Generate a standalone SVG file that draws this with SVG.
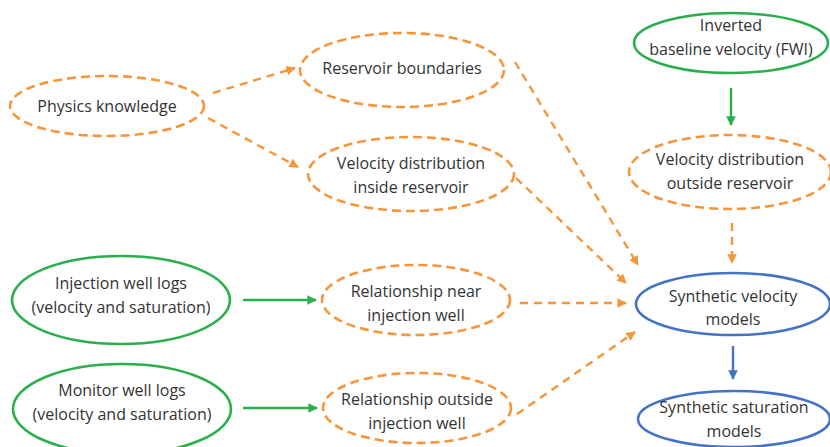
<svg xmlns="http://www.w3.org/2000/svg" width="830" height="447" viewBox="0 0 830 447">
<defs>
<marker id="ao" viewBox="0 0 10 10" refX="9" refY="5" markerWidth="4" markerHeight="4" orient="auto" markerUnits="strokeWidth"><path d="M0,0 L10,5 L0,10 Z" fill="#F7953B"/></marker>
<marker id="ag" viewBox="0 0 10 10" refX="9" refY="5" markerWidth="4" markerHeight="4" orient="auto" markerUnits="strokeWidth"><path d="M0,0 L10,5 L0,10 Z" fill="#2BAF4B"/></marker>
<marker id="ab" viewBox="0 0 10 10" refX="9" refY="5" markerWidth="4" markerHeight="4" orient="auto" markerUnits="strokeWidth"><path d="M0,0 L10,5 L0,10 Z" fill="#4472C4"/></marker>
</defs>
<style>
.o{fill:#fff;stroke:#F7953B;stroke-width:2.6;stroke-dasharray:9 5}
.g{fill:#fff;stroke:#2BAF4B;stroke-width:2.6}
.b{fill:#fff;stroke:#4472C4;stroke-width:2.6}
text{font-family:"Open Sans","Noto Sans",sans-serif;font-size:16px;fill:#333;text-anchor:middle}
.co{stroke:#F7953B;stroke-width:2.4;stroke-dasharray:8 6;fill:none;marker-end:url(#ao)}
.cg{stroke:#2BAF4B;stroke-width:2.4;fill:none;marker-end:url(#ag)}
.cb{stroke:#4472C4;stroke-width:2.4;fill:none;marker-end:url(#ab)}
</style>
<rect width="830" height="447" fill="#fff"/>
<g id="connectors">
<line class="co" x1="213" y1="93" x2="295" y2="68"/>
<line class="co" x1="208" y1="118" x2="298" y2="167"/>
<line class="cg" x1="731" y1="88" x2="731" y2="125"/>
<line class="co" x1="515" y1="62" x2="638" y2="265"/>
<line class="co" x1="516" y1="178" x2="626" y2="283"/>
<line class="co" x1="732" y1="223" x2="732" y2="263"/>
<line class="cg" x1="243" y1="300" x2="316" y2="300"/>
<line class="co" x1="520" y1="303" x2="626" y2="303"/>
<line class="cg" x1="243" y1="408" x2="317" y2="408"/>
<line class="co" x1="517" y1="414" x2="635" y2="332"/>
<line class="cb" x1="733" y1="346" x2="733" y2="379"/>
</g>
<g id="physics"><ellipse class="o" cx="107" cy="106" rx="97" ry="30"/><text x="107" y="112">Physics knowledge</text></g>
<g id="boundaries"><ellipse class="o" cx="402" cy="70" rx="102" ry="37"/><text x="402" y="74">Reservoir boundaries</text></g>
<g id="vel-inside"><ellipse class="o" cx="411" cy="174" rx="103" ry="37"/><text x="411" y="169">Velocity distribution</text><text x="411" y="193">inside reservoir</text></g>
<g id="baseline"><ellipse class="g" cx="731" cy="43" rx="97" ry="30"/><text x="731" y="31">Inverted</text><text x="731" y="55">baseline velocity (FWI)</text></g>
<g id="vel-outside"><ellipse class="o" cx="730" cy="172" rx="101" ry="37"/><text x="730" y="165">Velocity distribution</text><text x="730" y="189">outside reservoir</text></g>
<g id="inj-logs"><ellipse class="g" cx="121" cy="300" rx="109" ry="44"/><text x="121" y="289">Injection well logs</text><text x="121" y="313">(velocity and saturation)</text></g>
<g id="rel-near"><ellipse class="o" cx="416" cy="300" rx="94" ry="35"/><text x="416" y="297">Relationship near</text><text x="416" y="321">injection well</text></g>
<g id="mon-logs"><ellipse class="g" cx="122" cy="409" rx="109" ry="45"/><text x="122" y="396">Monitor well logs</text><text x="122" y="420">(velocity and saturation)</text></g>
<g id="rel-outside"><ellipse class="o" cx="417" cy="408" rx="94" ry="35"/><text x="417" y="405">Relationship outside</text><text x="417" y="429">injection well</text></g>
<g id="syn-vel"><ellipse class="b" cx="733" cy="304" rx="97" ry="31"/><text x="733" y="302">Synthetic velocity</text><text x="733" y="325">models</text></g>
<g id="syn-sat"><ellipse class="b" cx="734" cy="419" rx="96" ry="28"/><text x="734" y="413">Synthetic saturation</text><text x="734" y="437">models</text></g>
</svg>
